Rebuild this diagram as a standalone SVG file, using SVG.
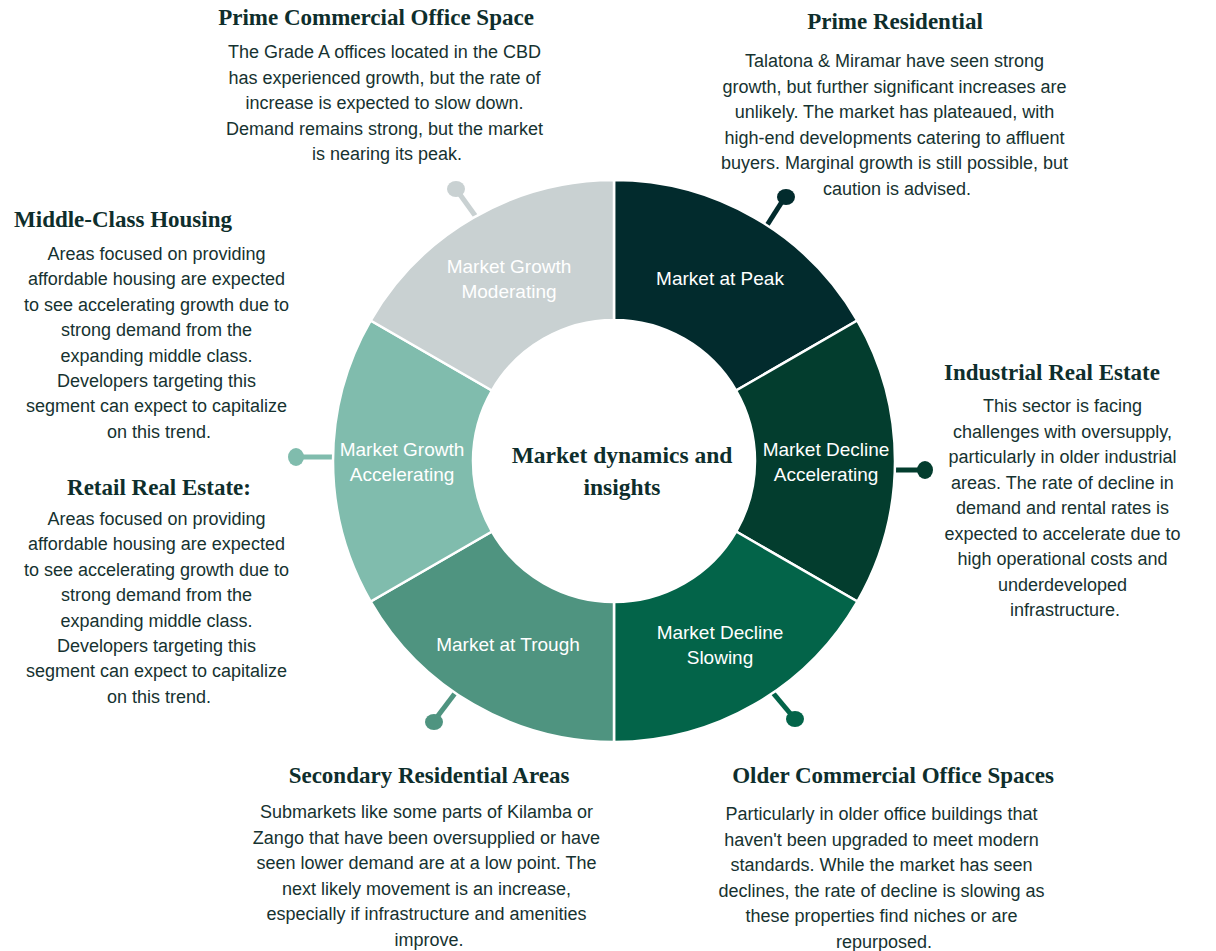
<svg xmlns="http://www.w3.org/2000/svg" width="1216" height="951" viewBox="0 0 1216 951">
  <style>
    .head { font-family: "Liberation Serif", "DejaVu Serif", serif; font-weight: bold; font-size: 23px; fill: #0e2e2c; text-anchor: middle; }
    .body { font-family: "Liberation Sans", Arial, sans-serif; font-size: 18px; fill: #163230; text-anchor: middle; }
    .seg-label { font-family: "Liberation Sans", Arial, sans-serif; font-size: 19px; fill: #ffffff; text-anchor: middle; }
    .center { font-family: "Liberation Serif", "DejaVu Serif", serif; font-weight: bold; font-size: 23.5px; fill: #0e2e2c; text-anchor: middle; }
    .seg { stroke: #ffffff; stroke-width: 2.5; stroke-linejoin: miter; }
    .pin { stroke-width: 5; stroke-linecap: butt; fill: none; }
  </style>
  <rect width="1216" height="951" fill="#ffffff"/>

  <!-- pins: short stalks with a rounded head, one per segment -->
  <g id="connectors">
    <g id="pin-peak">
      <line class="pin" x1="764" y1="230" x2="785" y2="197" stroke="#022b2d"/>
      <ellipse cx="786" cy="197" rx="9" ry="8" fill="#022b2d"/>
    </g>
    <g id="pin-decline-accelerating">
      <line class="pin" x1="890" y1="470" x2="924" y2="470" stroke="#033d2e"/>
      <ellipse cx="925" cy="470" rx="8" ry="9" fill="#033d2e"/>
    </g>
    <g id="pin-decline-slowing">
      <line class="pin" x1="768" y1="687" x2="794" y2="718" stroke="#036449"/>
      <ellipse cx="795" cy="719" rx="9" ry="8" fill="#036449"/>
    </g>
    <g id="pin-trough">
      <line class="pin" x1="459" y1="688" x2="434" y2="721" stroke="#4f9480"/>
      <ellipse cx="434" cy="722" rx="9" ry="8" fill="#4f9480"/>
    </g>
    <g id="pin-growth-accelerating">
      <line class="pin" x1="296" y1="457" x2="337" y2="457" stroke="#80bcad"/>
      <ellipse cx="296" cy="457" rx="8" ry="9" fill="#80bcad"/>
    </g>
    <g id="pin-growth-moderating">
      <line class="pin" x1="456" y1="189" x2="479" y2="221" stroke="#c9d1d2"/>
      <ellipse cx="456" cy="189" rx="9" ry="8" fill="#c9d1d2"/>
    </g>
  </g>

  <!-- donut ring: centre (614,461), outer r 281, inner r 141 -->
  <g id="seg-peak">
    <path class="seg" fill="#022b2d" d="M614,180 A281,281 0 0 1 857.35,320.5 L736.11,390.5 A141,141 0 0 0 614,320 Z"/>
    <text class="seg-label" x="720" y="285">Market at Peak</text>
  </g>
  <g id="seg-decline-accelerating">
    <path class="seg" fill="#033d2e" d="M857.35,320.5 A281,281 0 0 1 857.35,601.5 L736.11,531.5 A141,141 0 0 0 736.11,390.5 Z"/>
    <text class="seg-label" x="826" y="456">Market Decline</text>
    <text class="seg-label" x="826" y="481">Accelerating</text>
  </g>
  <g id="seg-decline-slowing">
    <path class="seg" fill="#036449" d="M857.35,601.5 A281,281 0 0 1 614,742 L614,602 A141,141 0 0 0 736.11,531.5 Z"/>
    <text class="seg-label" x="720" y="639">Market Decline</text>
    <text class="seg-label" x="720" y="664">Slowing</text>
  </g>
  <g id="seg-trough">
    <path class="seg" fill="#4f9480" d="M614,742 A281,281 0 0 1 370.65,601.5 L491.89,531.5 A141,141 0 0 0 614,602 Z"/>
    <text class="seg-label" x="508" y="651">Market at Trough</text>
  </g>
  <g id="seg-growth-accelerating">
    <path class="seg" fill="#80bcad" d="M370.65,601.5 A281,281 0 0 1 370.65,320.5 L491.89,390.5 A141,141 0 0 0 491.89,531.5 Z"/>
    <text class="seg-label" x="402" y="456">Market Growth</text>
    <text class="seg-label" x="402" y="481">Accelerating</text>
  </g>
  <g id="seg-growth-moderating">
    <path class="seg" fill="#c9d1d2" d="M370.65,320.5 A281,281 0 0 1 614,180 L614,320 A141,141 0 0 0 491.89,390.5 Z"/>
    <text class="seg-label" x="509" y="273">Market Growth</text>
    <text class="seg-label" x="509" y="298">Moderating</text>
  </g>

  <g id="hub">
    <circle cx="614" cy="461" r="139.5" fill="#ffffff"/>
    <text class="center" x="622" y="463">Market dynamics and</text>
    <text class="center" x="622" y="495">insights</text>
  </g>

  <!-- descriptive notes -->
  <g id="note-prime-commercial">
    <text class="head" x="376" y="25">Prime Commercial Office Space</text>
    <text class="body" x="387">
      <tspan x="387" y="58">The Grade A offices located in the CBD</tspan>
      <tspan x="387" y="83.5">has experienced growth, but the rate of</tspan>
      <tspan x="387" y="109">increase is expected to slow down.</tspan>
      <tspan x="387" y="134.5">Demand remains strong, but the market</tspan>
      <tspan x="387" y="160">is nearing its peak.</tspan>
    </text>
  </g>

  <g id="note-prime-residential">
    <text class="head" x="895" y="29">Prime Residential</text>
    <text class="body" x="897">
      <tspan x="897" y="67">Talatona &amp; Miramar have seen strong</tspan>
      <tspan x="897" y="92.5">growth, but further significant increases are</tspan>
      <tspan x="897" y="118">unlikely. The market has plateaued, with</tspan>
      <tspan x="897" y="143.5">high-end developments catering to affluent</tspan>
      <tspan x="897" y="169">buyers. Marginal growth is still possible, but</tspan>
      <tspan x="897" y="194.5">caution is advised.</tspan>
    </text>
  </g>

  <g id="note-middle-class">
    <text class="head" x="123" y="227">Middle-Class Housing</text>
    <text class="body" x="159">
      <tspan x="159" y="260">Areas focused on providing</tspan>
      <tspan x="159" y="285.4">affordable housing are expected</tspan>
      <tspan x="159" y="310.8">to see accelerating growth due to</tspan>
      <tspan x="159" y="336.2">strong demand from the</tspan>
      <tspan x="159" y="361.6">expanding middle class.</tspan>
      <tspan x="159" y="387">Developers targeting this</tspan>
      <tspan x="159" y="412.4">segment can expect to capitalize</tspan>
      <tspan x="159" y="437.8">on this trend.</tspan>
    </text>
  </g>

  <g id="note-retail">
    <text class="head" x="159" y="495">Retail Real Estate:</text>
    <text class="body" x="159">
      <tspan x="159" y="525">Areas focused on providing</tspan>
      <tspan x="159" y="550.4">affordable housing are expected</tspan>
      <tspan x="159" y="575.8">to see accelerating growth due to</tspan>
      <tspan x="159" y="601.2">strong demand from the</tspan>
      <tspan x="159" y="626.6">expanding middle class.</tspan>
      <tspan x="159" y="652">Developers targeting this</tspan>
      <tspan x="159" y="677.4">segment can expect to capitalize</tspan>
      <tspan x="159" y="702.8">on this trend.</tspan>
    </text>
  </g>

  <g id="note-industrial">
    <text class="head" x="1052" y="380">Industrial Real Estate</text>
    <text class="body" x="1065">
      <tspan x="1065" y="412">This sector is facing</tspan>
      <tspan x="1065" y="437.5">challenges with oversupply,</tspan>
      <tspan x="1065" y="463">particularly in older industrial</tspan>
      <tspan x="1065" y="488.5">areas. The rate of decline in</tspan>
      <tspan x="1065" y="514">demand and rental rates is</tspan>
      <tspan x="1065" y="539.5">expected to accelerate due to</tspan>
      <tspan x="1065" y="565">high operational costs and</tspan>
      <tspan x="1065" y="590.5">underdeveloped</tspan>
      <tspan x="1065" y="616">infrastructure.</tspan>
    </text>
  </g>

  <g id="note-secondary-residential">
    <text class="head" x="429" y="783">Secondary Residential Areas</text>
    <text class="body" x="429">
      <tspan x="429" y="818">Submarkets like some parts of Kilamba or</tspan>
      <tspan x="429" y="843.5">Zango that have been oversupplied or have</tspan>
      <tspan x="429" y="869">seen lower demand are at a low point. The</tspan>
      <tspan x="429" y="894.5">next likely movement is an increase,</tspan>
      <tspan x="429" y="920">especially if infrastructure and amenities</tspan>
      <tspan x="429" y="945.5">improve.</tspan>
    </text>
  </g>

  <g id="note-older-commercial">
    <text class="head" x="893" y="783">Older Commercial Office Spaces</text>
    <text class="body" x="884">
      <tspan x="884" y="820">Particularly in older office buildings that</tspan>
      <tspan x="884" y="845.5">haven't been upgraded to meet modern</tspan>
      <tspan x="884" y="871">standards. While the market has seen</tspan>
      <tspan x="884" y="896.5">declines, the rate of decline is slowing as</tspan>
      <tspan x="884" y="922">these properties find niches or are</tspan>
      <tspan x="884" y="947.5">repurposed.</tspan>
    </text>
  </g>
</svg>
